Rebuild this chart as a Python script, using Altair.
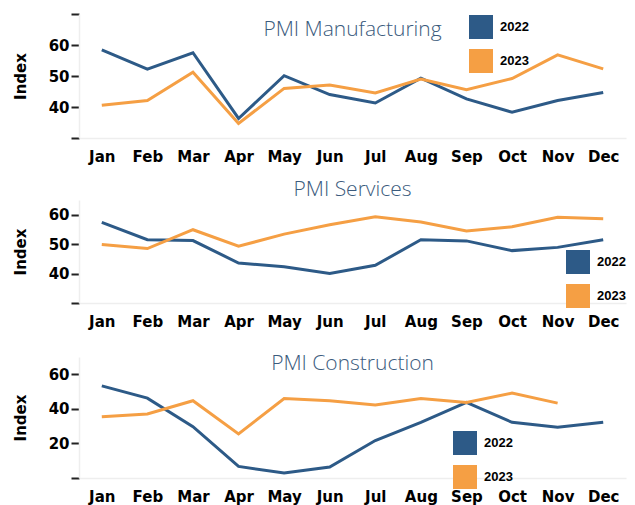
import altair as alt
import pandas as pd

months = ["Jan", "Feb", "Mar", "Apr", "May", "Jun", "Jul", "Aug", "Sep", "Oct", "Nov", "Dec"]
years = ["2022", "2023"]

mfg_2022 = [58.4, 52.2, 57.5, 36.3, 50.1, 44.0, 41.3, 49.3, 42.6, 38.3, 42.1, 44.7]
mfg_2023 = [40.6, 42.1, 51.2, 34.7, 46.0, 47.1, 44.5, 49.0, 45.6, 49.2, 56.8, 52.3]

srv_2022 = [57.4, 51.5, 51.2, 43.6, 42.3, 40.0, 42.8, 51.5, 51.1, 47.8, 48.9, 51.5]
srv_2023 = [49.9, 48.5, 54.9, 49.3, 53.4, 56.6, 59.3, 57.5, 54.5, 55.9, 59.1, 58.6]

con_2022 = [53.3, 46.2, 29.7, 6.7, 2.9, 6.3, 21.7, 32.2, 43.7, 32.2, 29.3, 32.2]
con_2023 = [35.5, 37.0, 44.7, 25.5, 46.0, 44.7, 42.2, 46.0, 43.7, 49.1, 43.3, None]

BLUE = "#2d5a87"
ORANGE = "#f59f44"
FONT = "DejaVu Sans"


def frame(a, b):
    rows = []
    for m, v in zip(months, a):
        rows.append({"month": m, "year": "2022", "value": v})
    for m, v in zip(months, b):
        rows.append({"month": m, "year": "2023", "value": v})
    return pd.DataFrame(rows)


def panel(title, df, domain, ticks, hide, height, yrange, lx, ly, toff):
    label_expr = " || ".join(f"datum.value == {h}" for h in hide)
    x = alt.X(
        "month:N", sort=months, title=None,
        scale=alt.Scale(type="point", padding=0.5),
        axis=alt.Axis(labelAngle=0, ticks=False, domainColor="#eeeeee", domainWidth=1.5,
                      labelFont=FONT, labelFontWeight="bold", labelFontSize=15,
                      labelColor="#000000", labelPadding=11),
    )
    yscale = alt.Scale(domain=domain, nice=False, zero=False)
    if yrange is not None:
        yscale = alt.Scale(domain=domain, nice=False, zero=False, range=yrange)
    y = alt.Y(
        "value:Q", scale=yscale, title="Index",
        axis=alt.Axis(values=ticks, labelExpr=f"({label_expr}) ? '' : datum.label",
                      domainColor="#eeeeee", domainWidth=1.5, tickColor="#222222",
                      tickWidth=2, tickSize=8, labelPadding=2,
                      labelFont=FONT, labelFontWeight="bold", labelFontSize=15,
                      labelColor="#000000", titleFont=FONT, titleFontWeight="bold",
                      titleFontSize=15, titleColor="#000000", titlePadding=20),
    )
    cscale = alt.Scale(domain=years, range=[BLUE, ORANGE])
    lines = alt.Chart(df).mark_line(strokeWidth=3).encode(
        x=x, y=y, color=alt.Color("year:N", scale=cscale, legend=None)
    )
    squares = alt.Chart(df).mark_square(size=0, filled=True, opacity=1).encode(
        x=x, y=y,
        color=alt.Color("year:N", scale=cscale,
                        legend=alt.Legend(orient="none", legendX=lx, legendY=ly, title=None,
                                          symbolType="square", symbolSize=576,
                                          symbolStrokeWidth=0, labelFont="Liberation Sans",
                                          labelFontWeight="bold", labelFontSize=13,
                                          labelColor="#000000", labelOffset=7,
                                          rowPadding=10, padding=0)),
    )
    return alt.layer(lines, squares).resolve_legend(color="independent").properties(
        width=547, height=height,
        title=alt.TitleParams(title, anchor="middle", offset=toff, font="Open Sans",
                              fontWeight=300, fontSize=21, color="#3b5b7d"),
    )


p1 = panel("PMI Manufacturing", frame(mfg_2022, mfg_2023), [30, 70], [30, 40, 50, 60, 70],
           [30, 70], 124, None, 390, 1, -27)
p2 = panel("PMI Services", frame(srv_2022, srv_2023), [30, 65], [30, 40, 50, 60],
           [30], 111, [111, 8], 487, 58, -8)
p3 = panel("PMI Construction", frame(con_2022, con_2023), [0, 70], [0, 20, 40, 60],
           [0], 121, None, 374, 74, -17)

chart = alt.vconcat(p1, p2, p3, spacing=54, bounds="flush").properties(
    padding={"left": 5, "top": 5, "right": 1, "bottom": 5}
).configure_view(
    stroke=None
).configure_axis(grid=False)

chart.save("out.html", embed_options={"renderer": "svg", "actions": False})
